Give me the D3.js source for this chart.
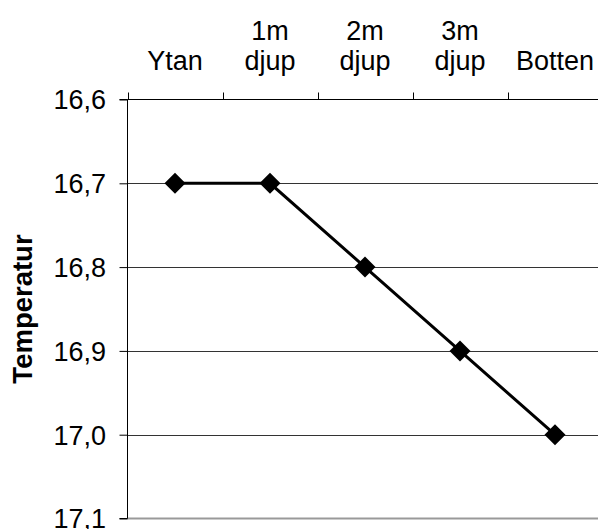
<!DOCTYPE html>
<html><head><meta charset="utf-8">
<script src="https://cdn.jsdelivr.net/npm/d3@7"></script>
<style>body{margin:0;background:#fff}svg{display:block}text{font-family:"Liberation Sans",Arial,sans-serif}</style>
</head><body><svg id="c" width="598" height="529"></svg>
<script>
const categories = [["Ytan"],["1m","djup"],["2m","djup"],["3m","djup"],["Botten"]];
const values = [16.7, 16.7, 16.8, 16.9, 17.0];
const yTicks = [16.6, 16.7, 16.8, 16.9, 17.0, 17.1];
const yTitle = "Temperatur";

const FS = 27;
const svg = d3.select("#c");
const pLeft = 127.5, pTop = 99.5, bandW = 95, plotH = 419;
const x = d3.scaleBand().domain(d3.range(categories.length)).range([pLeft, pLeft + bandW*categories.length]);
const y = d3.scaleLinear().domain([16.6, 17.1]).range([pTop, pTop + plotH]);

// gridlines
svg.append("g").selectAll("line").data(yTicks.slice(1, -1)).join("line")
  .attr("x1", pLeft).attr("x2", 598).attr("y1", d => Math.round(y(d)) + 0.5).attr("y2", d => Math.round(y(d)) + 0.5)
  .attr("stroke", "#333").attr("stroke-width", 1);
// bottom border (gray)
svg.append("line").attr("x1", pLeft).attr("x2", 598).attr("y1", y(17.1)).attr("y2", y(17.1))
  .attr("stroke", "#999").attr("stroke-width", 2);

// left axis
const yAxis = d3.axisLeft(y).tickValues(yTicks).tickSize(8).tickPadding(13.5)
  .tickFormat(d => d3.format(".1f")(d).replace(".", ","));
const gy = svg.append("g").attr("transform", `translate(${pLeft},0)`).call(yAxis);
gy.select(".domain").attr("stroke", "#000").attr("d", `M-8,${pTop}H0V${pTop+plotH}H-8`);
gy.selectAll(".tick line").attr("stroke", "#000");
gy.selectAll(".tick text").attr("font-size", FS).attr("fill", "#000").attr("font-family", "Liberation Sans, Arial, sans-serif").attr("dy", "0.35em");

// top axis
const xb = d3.scaleLinear().domain([0, categories.length]).range([pLeft, pLeft + bandW*categories.length]);
const gx = svg.append("g");
gx.append("line").attr("x1", pLeft).attr("x2", 598).attr("y1", pTop).attr("y2", pTop).attr("stroke", "#000");
gx.selectAll("line.tk").data(d3.range(categories.length)).join("line").attr("class","tk")
  .attr("x1", d => Math.round(xb(d)) + 0.5).attr("x2", d => Math.round(xb(d)) + 0.5)
  .attr("y1", pTop - 7).attr("y2", pTop).attr("stroke", "#000");
gx.selectAll("text").data(categories).join("text")
  .attr("text-anchor", "middle").attr("font-size", FS).attr("fill", "#000")
  .attr("x", (d,i) => x(i) + x.bandwidth()/2)
  .each(function(d){
    const t = d3.select(this);
    const base = 70;
    d.forEach((s, j) => {
      t.append("tspan").attr("x", t.attr("x")).attr("y", base - (d.length - 1 - j) * 30).text(s);
    });
  });

// y title
svg.append("text").attr("transform", `translate(32,${pTop + plotH/2}) rotate(-90)`)
  .attr("text-anchor", "middle").attr("font-size", 27.5).attr("font-weight", "bold").text(yTitle);

// line
const line = d3.line().x((d,i) => x(i) + x.bandwidth()/2).y(d => y(d));
svg.append("path").datum(values).attr("d", line).attr("fill", "none").attr("stroke", "#000").attr("stroke-width", 3);
// markers
svg.append("g").selectAll("path").data(values).join("path")
  .attr("transform", (d,i) => `translate(${x(i) + x.bandwidth()/2},${y(d)})`)
  .attr("d", "M0,-10.5L10.5,0L0,10.5L-10.5,0Z").attr("fill", "#000");
</script></body></html>
